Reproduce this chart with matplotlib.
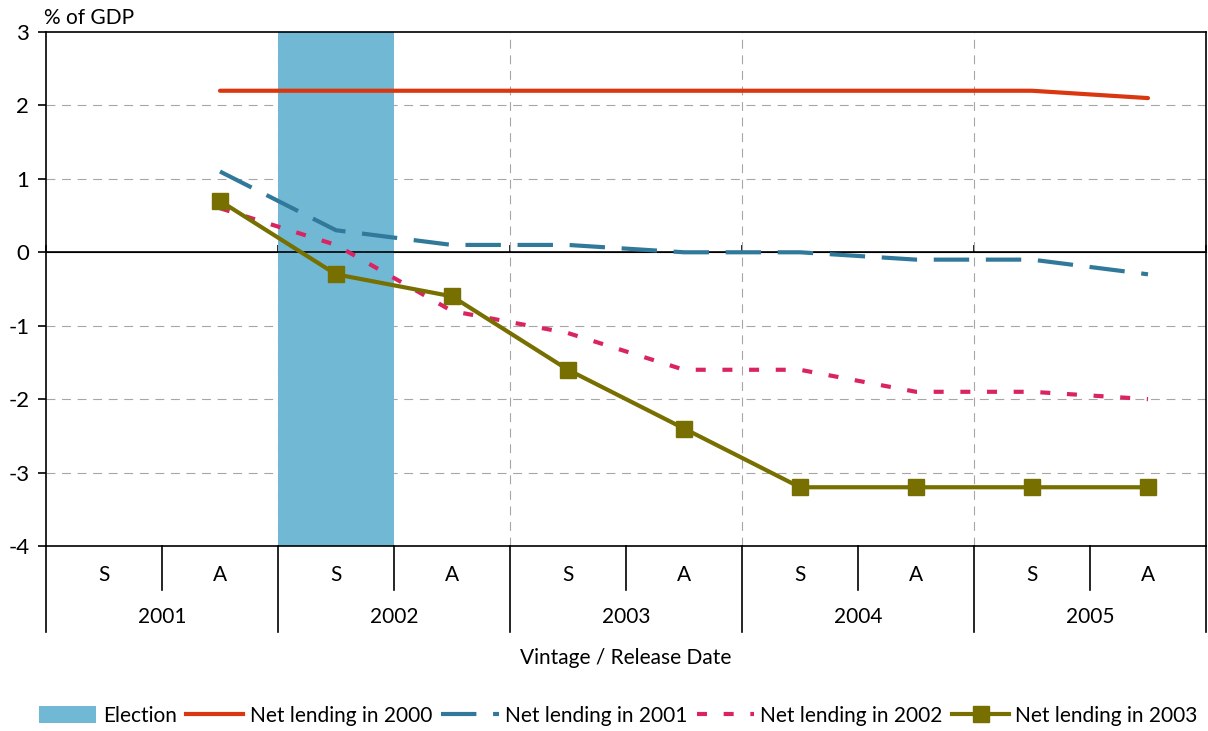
import matplotlib
matplotlib.use("Agg")
import matplotlib.pyplot as plt
import matplotlib.transforms as mtransforms
import numpy as np
from matplotlib.lines import Line2D
from matplotlib.patches import Patch

plt.rcParams['font.family'] = ['Lato', 'DejaVu Sans']
plt.rcParams['font.size'] = 15

# categories: half-year vintages (S = spring, A = autumn)
years = ["2001", "2002", "2003", "2004", "2005"]
halves = ["S", "A"]
vintages = [f"{y} {h}" for y in years for h in halves]

# series start at 2001 A
nl_2000 = [2.2, 2.2, 2.2, 2.2, 2.2, 2.2, 2.2, 2.2, 2.1]
nl_2001 = [1.1, 0.3, 0.1, 0.1, 0.0, 0.0, -0.1, -0.1, -0.3]
nl_2002 = [0.6, 0.1, -0.8, -1.1, -1.6, -1.6, -1.9, -1.9, -2.0]
nl_2003 = [0.7, -0.3, -0.6, -1.6, -2.4, -3.2, -3.2, -3.2, -3.2]
election_vintage = "2002 S"

x_all = np.arange(len(vintages)) + 0.5
x_series = x_all[1:]

fig = plt.figure(figsize=(12.08, 7.31), dpi=100)
ax = fig.add_axes([46 / 1208, 1 - 546 / 731, 1160 / 1208, 514 / 731])

ax.set_xlim(0, len(vintages))
ax.set_ylim(-4, 3)

# election band
ei = vintages.index(election_vintage)
ax.axvspan(ei, ei + 1, color="#71B8D4", zorder=2, lw=0)

# grid
grid_kw = dict(color="#A6A6A6", lw=0.8, ls=(0, (8, 6)), zorder=1)
for yv in [-3, -2, -1, 1, 2]:
    ax.axhline(yv, **grid_kw)
for xv in range(2, len(vintages), 2):
    ax.axvline(xv, **grid_kw)
ax.axhline(0, color="black", lw=1.2, zorder=3)

# series
ax.plot(x_series, nl_2000, color="#DA3710", lw=3, zorder=4,
        solid_capstyle="round")
ax.plot(x_series, nl_2001, color="#31799B", lw=3, ls=(0, (8.5, 4)), zorder=4)
ax.plot(x_series, nl_2002, color="#DA2462", lw=3, ls=(0, (2.4, 4)), zorder=4)
ax.plot(x_series, nl_2003, color="#777000", lw=3, marker="s", ms=11,
        zorder=5)

# axes styling
for s in ax.spines.values():
    s.set_color("black")
    s.set_linewidth(1.2)
ax.set_yticks(range(-4, 4))
ax.set_yticklabels([str(v) for v in range(-4, 4)])
ax.tick_params(axis="y", direction="out", length=6, width=1.2, pad=6,
               labelsize=16)
ax.set_xticks([])

# small ticks on the zero line at year boundaries
sec = ax.secondary_xaxis(4 / 7)
sec.set_xticks(range(0, len(vintages) + 1, 2))
sec.set_xticklabels([])
sec.tick_params(direction="out", length=5, width=1.2)
sec.spines["bottom"].set_visible(False)

# two-level category axis
trans = mtransforms.blended_transform_factory(ax.transData, ax.transAxes)
for i, v in enumerate(vintages):
    ax.text(x_all[i], -0.0564, v.split()[1], transform=trans,
            ha="center", va="center")
for i in range(1, len(vintages), 2):
    ax.plot([i, i], [0, -0.0856], transform=trans, color="black",
            lw=1.2, clip_on=False)
for j, yr in enumerate(years):
    ax.text(2 * j + 1, -0.138, yr, transform=trans,
            ha="center", va="center")
for i in range(0, len(vintages) + 1, 2):
    ax.plot([i, i], [0, -0.167], transform=trans, color="black",
            lw=1.2, clip_on=False)
ax.text(len(vintages) / 2, -0.218, "Vintage / Release Date", transform=trans,
        ha="center", va="center")

fig.text(44 / 1208, 1 - 18 / 731, "% of GDP", ha="left", va="center")

handles = [
    Patch(facecolor="#71B8D4", edgecolor="none"),
    Line2D([], [], color="#DA3710", lw=3),
    Line2D([], [], color="#31799B", lw=3, ls=(0, (8.5, 4))),
    Line2D([], [], color="#DA2462", lw=3, ls=(0, (2.4, 4))),
    Line2D([], [], color="#777000", lw=3, marker="s", ms=11),
]
labels = ["Election", "Net lending in 2000", "Net lending in 2001",
          "Net lending in 2002", "Net lending in 2003"]
fig.legend(handles, labels, loc="center", bbox_to_anchor=(0.512, 1 - 716 / 731),
           ncol=5, frameon=False, handlelength=2.75,
           handletextpad=0.3, columnspacing=0.45, handleheight=0.9)

fig.savefig("out.png", dpi=100)
